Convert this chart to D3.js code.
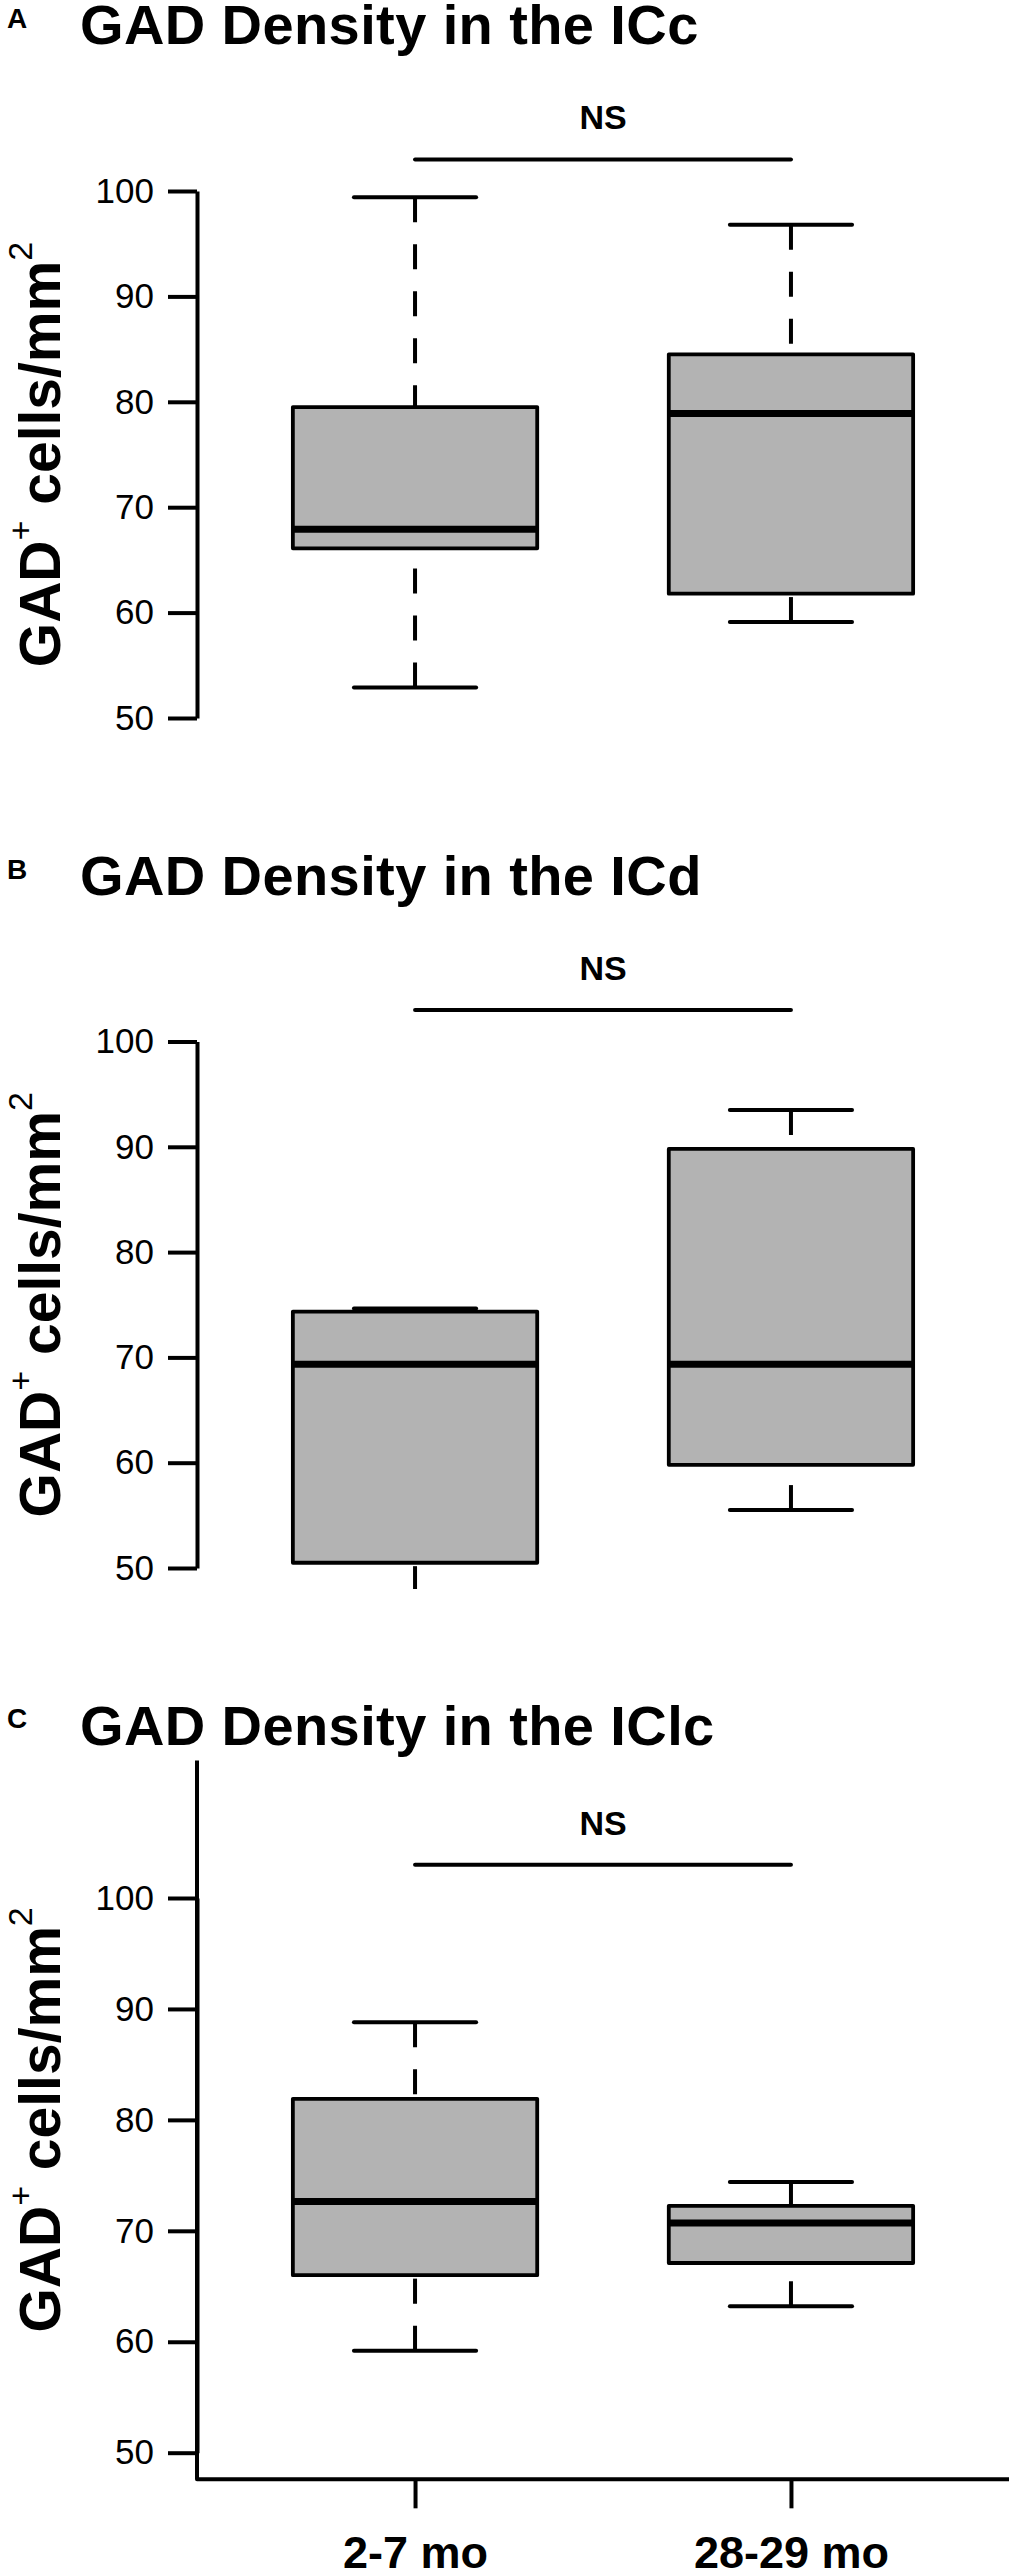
<!DOCTYPE html>
<html>
<head>
<meta charset="utf-8">
<script src="https://cdn.jsdelivr.net/npm/d3@7"></script>
<style>
body { margin: 0; background: #fff; }
svg { display: block; font-family: "Liberation Sans", Arial, Helvetica, sans-serif; }
</style>
</head>
<body>
<svg id="chart" width="1014" height="2574"></svg>
<script>
// values
// box stats per group: lower whisker, Q1, median, Q3, upper whisker
const groups = ["2-7 mo", "28-29 mo"];
const panelLetters = ["A", "B", "C"];
const panelTitles = ["GAD Density in the ICc", "GAD Density in the ICd", "GAD Density in the IClc"];
const iccStats = [[52.9, 66.1, 67.9, 79.5, 99.4], [59.1, 61.8, 78.9, 84.5, 96.8]];
const icdStats = [[47.8, 50.5, 69.35, 74.35, 74.65], [55.5, 59.8, 69.35, 89.8, 93.5]];
const iclcStats = [[59.2, 66.0, 72.65, 81.9, 88.8], [63.2, 67.1, 70.7, 72.25, 74.4]];
const yTicks = [50, 60, 70, 80, 90, 100];
const sigLabel = "NS";
const sigLevel = 103;

// page layout (pixel positions of the 50 and 100 ticks for each panel)
const layout = [
    { stats: iccStats, y50: 718, y100: 191, ylim: [50, 100], titleY: 44, letterY: 28, frame: false },
    { stats: icdStats, y50: 1568, y100: 1041.5, ylim: [50, 100], titleY: 895, letterY: 879, frame: false },
    { stats: iclcStats, y50: 2452.7, y100: 1898, ylim: [50, 110], titleY: 1745, letterY: 1728, frame: true }
];
const boxWidth = 0.65;
const lineW = 4;

const svg = d3.select("#chart");

// x like R's boxplot: 0.5..2.5 padded by 4%
const x = d3.scaleLinear()
    .domain([0.42, 2.58])
    .range([197, 1009]);

layout.forEach((p, k) => {
    const y = d3.scaleLinear()
        .domain([50, 100])
        .range([p.y50, p.y100]);
    const pad = 0.04 * (p.ylim[1] - p.ylim[0]);
    const yLo = p.ylim[0] - pad, yHi = p.ylim[1] + pad;

    const g = svg.append("g");

    // panel letter and title
    g.append("text")
        .attr("x", 7).attr("y", p.letterY)
        .attr("font-size", 28).attr("font-weight", "bold")
        .text(panelLetters[k]);
    g.append("text")
        .attr("x", 80).attr("y", p.titleY)
        .attr("font-size", 56).attr("font-weight", "bold")
        .attr("letter-spacing", 0.4)
        .text(panelTitles[k]);

    // clip to plot region
    const clipId = "clip" + k;
    svg.append("clipPath").attr("id", clipId)
        .append("rect")
        .attr("x", x.range()[0]).attr("y", y(yHi))
        .attr("width", x.range()[1] - x.range()[0])
        .attr("height", y(yLo) - y(yHi));

    const boxes = g.append("g")
        .attr("clip-path", `url(#${clipId})`)
        .selectAll("g")
        .data(p.stats)
        .join("g");

    boxes.append("rect")
        .attr("x", (d, i) => x(i + 1 - boxWidth / 2))
        .attr("width", x(boxWidth) - x(0))
        .attr("y", d => y(d[3]))
        .attr("height", d => y(d[1]) - y(d[3]))
        .attr("fill", "#b3b3b3")
        .attr("stroke", "black")
        .attr("stroke-width", 3.8)
        .attr("stroke-linejoin", "round");

    boxes.append("line")
        .attr("x1", (d, i) => x(i + 1 - boxWidth / 2))
        .attr("x2", (d, i) => x(i + 1 + boxWidth / 2))
        .attr("y1", d => y(d[2]))
        .attr("y2", d => y(d[2]))
        .attr("stroke", "black")
        .attr("stroke-width", 7);

    // whiskers, dashed from the whisker end toward the box
    [[0, 1], [4, 3]].forEach(([a, b]) => {
        boxes.append("line")
            .attr("x1", (d, i) => x(i + 1))
            .attr("x2", (d, i) => x(i + 1))
            .attr("y1", d => y(d[a]))
            .attr("y2", d => y(d[b]))
            .attr("stroke", "black")
            .attr("stroke-width", lineW)
            .attr("stroke-dasharray", "25,22");
        boxes.append("line")
            .attr("x1", (d, i) => x(i + 1 - boxWidth / 4))
            .attr("x2", (d, i) => x(i + 1 + boxWidth / 4))
            .attr("y1", d => y(d[a]))
            .attr("y2", d => y(d[a]))
            .attr("stroke", "black")
            .attr("stroke-width", lineW)
            .attr("stroke-linecap", "round");
    });

    // L-shaped frame in panel C
    if (p.frame) {
        g.append("path")
            .attr("d", `M${x(0.42)},${y(yHi)}V${y(yLo)}H${x(2.58)}`)
            .attr("fill", "none")
            .attr("stroke", "black")
            .attr("stroke-width", lineW)
            .attr("stroke-linejoin", "round");

        const xAxis = g.append("g")
            .attr("transform", `translate(0,${y(yLo)})`)
            .call(d3.axisBottom(x)
                .tickValues([1, 2])
                .tickFormat(d => groups[d - 1])
                .tickSize(29)
                .tickPadding(28)
                .tickSizeOuter(0));
        xAxis.attr("font-family", null).attr("font-size", 45).attr("font-weight", "bold");
        xAxis.select(".domain").remove();
        xAxis.selectAll("line").attr("stroke-width", lineW);
    }

    // y axis
    const yAxis = g.append("g")
        .attr("transform", `translate(${x(0.42)},0)`)
        .call(d3.axisLeft(y)
            .tickValues(yTicks)
            .tickSize(29)
            .tickPadding(14)
            .tickSizeOuter(0));
    yAxis.attr("font-family", null).attr("font-size", 35);
    yAxis.selectAll("line, path").attr("stroke-width", lineW);

    // y axis title
    const yMid = (y(yLo) + y(yHi)) / 2;
    const lab = g.append("text")
        .attr("transform", `translate(60,${yMid}) rotate(-90)`)
        .attr("text-anchor", "middle")
        .attr("font-size", 57)
        .attr("font-weight", "bold");
    lab.append("tspan").text("GAD");
    lab.append("tspan").attr("font-size", 34).attr("font-weight", "normal").attr("dy", -28).text("+");
    lab.append("tspan").attr("dy", 28).text(" cells/mm");
    lab.append("tspan").attr("font-size", 34).attr("font-weight", "normal").attr("dy", -28).text("2");

    // significance bar
    g.append("line")
        .attr("x1", x(1)).attr("x2", x(2))
        .attr("y1", y(sigLevel)).attr("y2", y(sigLevel))
        .attr("stroke", "black")
        .attr("stroke-width", lineW)
        .attr("stroke-linecap", "round");
    g.append("text")
        .attr("x", (x(1) + x(2)) / 2)
        .attr("y", y(sigLevel) - 30)
        .attr("text-anchor", "middle")
        .attr("font-size", 34)
        .attr("font-weight", "bold")
        .text(sigLabel);
});
</script>
</body>
</html>
